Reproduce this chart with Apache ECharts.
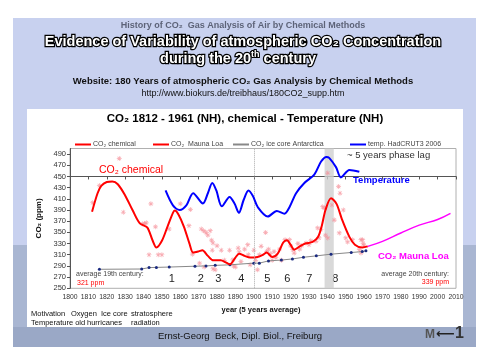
<!DOCTYPE html>
<html><head><meta charset="utf-8">
<script src="https://cdn.jsdelivr.net/npm/echarts@6/dist/echarts.min.js"></script>
<style>html,body{margin:0;padding:0;background:#fff}#c{width:486px;height:364px}</style>
</head><body><div id="c"></div>
<script>
// ---------- DATA ----------
// CO2 chemical, 5-year smoothed curve (year, ppm)
const chemYears = [1812,1815,1817,1820,1823,1826,1830,1834,1838,1842,1845,1847,1850,1853,1856,1857,1859,1862,1865,1867,1870,1872,1875,1878,1882,1885,1887,1890,1892,1895,1898,1902,1905,1907,1910,1913,1916,1918,1920,1922,1925,1928,1932,1935,1937,1939,1942,1945,1948,1952,1955,1959,1962];
const chemPpm   = [387,420,433,440,441,436,416,390,366,359,335,323,335,360,385,389,382,360,330,314,316,318,308,300,300,296,293,305,312,308,305,306,310,314,306,312,332,336,328,319,325,330,333,342,362,390,411,401,373,342,328,323,325];
// CO2 chemical single measurements (year, ppm)
const ptYears = [1812.3,1816,1826.8,1829,1839.5,1840.5,1841.5,1843,1844,1846.5,1848,1850,1854,1860,1864.7,1865.5,1866.6,1870.5,1871.4,1872.7,1873,1874,1875,1876.3,1877,1877.8,1877.4,1877.8,1879,1880,1882.3,1884,1886.8,1888.6,1889,1890,1891.5,1892,1893,1895,1896.7,1897,1898,1900,1901,1902,1903,1904,1906.4,1907,1908,1909,1910,1911,1912,1914,1915,1917,1919.4,1920,1921.2,1922,1924,1925,1926,1928.4,1930,1931,1933.8,1934.7,1935.5,1936.5,1937.5,1938.4,1939,1940.2,1940.2,1942.5,1943.8,1946.1,1946.9,1946.5,1948.7,1950,1951,1953.7,1957.4,1958.3,1959.2,1959.5,1960,1958.3];
const ptPpm   = [403,434,482,386,365,366,367,310,401,360,310,310,356,401,362,391,311,295,356,353,288,350,345,353,336,331,318,285,283,326,318,300,318,301,290,288,322,315,298,320,328,310,292,318,300,283,310,325,350,316,320,312,300,316,305,320,300,337,337,326,319,313,330,320,326,331,328,335,334,358,340,355,396,393,345,456,340,399,372,432,420,349,390,340,333,337,319,337,337,330,326,313];
// CO2 ice core Antarctica
const iceYears = [1816,1839,1843,1847,1854,1868,1874,1879,1887,1900,1903,1908,1915,1921,1927,1934,1942,1953,1959,1961];
const icePpm   = [284,284.5,287,287.4,288,289.5,290,291,292,295,295,299,300.5,302.5,305.5,308,311,314,315.6,317];
// CO2 Mauna Loa
const mlYears = [1962,1970,1980,1990,2000,2007];
const mlPpm   = [325,334,349,363,373,384];
// Temperature HadCRUT3 NH (anomaly, deg C, 5-yr smoothed)
const tYears = [1852,1856,1859.7,1863.3,1867,1872.3,1875,1877.4,1879.6,1882.6,1886.8,1889.5,1891.9,1894.5,1897.1,1899.5,1902.2,1907.6,1912.5,1916.7,1919.4,1923,1927.5,1932.9,1936.6,1939.5,1941,1944.7,1947.4,1952,1957.4];
const tAnom  = [-0.15,-0.31,-0.36,-0.31,-0.18,-0.29,-0.18,-0.07,-0.15,-0.32,-0.22,-0.29,-0.39,-0.25,-0.15,-0.21,-0.33,-0.43,-0.37,-0.40,-0.33,-0.18,-0.07,0.02,0.16,0.21,0.20,0.10,-0.01,0.07,0.05];
// Shaded "phase lag" band
const bandYears = [1938.5, 1943.5];
// Tick labels
const xTicks = [1800,1810,1820,1830,1840,1850,1860,1870,1880,1890,1900,1910,1920,1930,1940,1950,1960,1970,1980,1990,2000,2010];
const yTicks = [250,270,290,310,330,350,370,390,410,430,450,470,490];
const periodLabels = ['1','2','3','4','5','6','7','8'];

// ---------- BUILD ----------
const zip = (a,b) => a.map((v,i)=>[v,b[i]]);
const FONT = '"Liberation Sans", Arial, sans-serif';
const asterisk = 'path://M4.3,0H5.7V10H4.3Z M0,4.3H10V5.7H0Z M1,2L2,1L9,8L8,9Z M8,1L9,2L2,9L1,8Z';

const periodX = [171.7,200.7,218.3,241.3,267.3,287.3,309.3,335.3];

const graphics = [
  {type:'rect', shape:{x:13,y:18,width:463,height:329}, style:{fill:'#c8d1ef'}, z:-10, silent:true},
  {type:'rect', shape:{x:13,y:245,width:463,height:102}, style:{fill:'#a9b6d2'}, z:-9, silent:true},
  {type:'rect', shape:{x:13,y:327,width:463,height:20}, style:{fill:'#9aa8c6'}, z:-8, silent:true},
  {type:'rect', shape:{x:27,y:109,width:436,height:218}, style:{fill:'#ffffff'}, z:-7, silent:true},
  {type:'text', left:'center', top:21, style:{text:'History of CO₂  Gas Analysis of Air by Chemical Methods', font:'bold 9px '+FONT, fill:'#5d6378', textShadowColor:'#ffffff', textShadowOffsetX:1, textShadowOffsetY:1, textShadowBlur:0}},
  {type:'text', left:'center', top:33, style:{text:'Evidence of Variability of atmospheric CO₂ Concentration', font:'bold 14.5px '+FONT, fill:'#ffffff', stroke:'#000000', lineWidth:2.5}},
  {type:'text', x:238, y:50, style:{text:'{a|during the 20}{s|th}{a| century}', align:'center', font:'bold 14.5px '+FONT, fill:'#ffffff', stroke:'#000', lineWidth:2.5,
      rich:{a:{font:'bold 14.5px '+FONT, fill:'#fff', stroke:'#000', lineWidth:2.5, lineHeight:16, verticalAlign:'bottom'}, s:{font:'bold 9px '+FONT, fill:'#fff', stroke:'#000', lineWidth:2, lineHeight:16, verticalAlign:'top', padding:[0,0,6,0]}}}},
  {type:'text', left:'center', top:76, style:{text:'Website: 180 Years of atmospheric CO₂ Gas Analysis by Chemical Methods', font:'bold 9.5px '+FONT, fill:'#111'}},
  {type:'text', left:'center', top:89, style:{text:'http://www.biokurs.de/treibhaus/180CO2_supp.htm', font:'9px '+FONT, fill:'#111'}},
  {type:'text', x:245, y:113, style:{text:'CO₂ 1812 - 1961 (NH), chemical - Temperature (NH)', align:'center', font:'bold 11.5px '+FONT, fill:'#000'}},
  {type:'text', x:99, y:165, style:{text:'CO₂ chemical', font:'10.5px '+FONT, fill:'#ff0000'}},
  {type:'text', x:353, y:175, style:{text:'Temperature', font:'bold 9.5px '+FONT, fill:'#0000ff'}},
  {type:'text', x:378, y:251, style:{text:'CO₂ Mauna Loa', font:'bold 9.5px '+FONT, fill:'#ff00ff'}},
  {type:'text', x:347, y:150, style:{text:'~ 5 years phase lag', font:'9.5px '+FONT, fill:'#333'}},
  {type:'text', x:76, y:271, style:{text:'average 19th century:', font:'7px '+FONT, fill:'#444'}},
  {type:'text', x:77, y:280, style:{text:'321 ppm', font:'7px '+FONT, fill:'#ff0000'}},
  {type:'text', x:449, y:271, style:{text:'average 20th century:', align:'right', font:'7px '+FONT, fill:'#444'}},
  {type:'text', x:449, y:279, style:{text:'339 ppm', align:'right', font:'7px '+FONT, fill:'#ff0000'}},
  {type:'text', x:261, y:306, style:{text:'year (5 years average)', align:'center', font:'bold 7.5px '+FONT, fill:'#111'}},
  {type:'text', x:31, y:310, style:{text:'Motivation', font:'7.5px '+FONT, fill:'#111'}},
  {type:'text', x:71, y:310, style:{text:'Oxygen', font:'7.5px '+FONT, fill:'#111'}},
  {type:'text', x:101, y:310, style:{text:'Ice core', font:'7.5px '+FONT, fill:'#111'}},
  {type:'text', x:131, y:310, style:{text:'stratosphere', font:'7.5px '+FONT, fill:'#111'}},
  {type:'text', x:31, y:319, style:{text:'Temperature old', font:'7.5px '+FONT, fill:'#111'}},
  {type:'text', x:87, y:319, style:{text:'hurricanes', font:'7.5px '+FONT, fill:'#111'}},
  {type:'text', x:131, y:319, style:{text:'radiation', font:'7.5px '+FONT, fill:'#111'}},
  {type:'text', x:240, y:331, style:{text:'Ernst-Georg  Beck, Dipl. Biol., Freiburg', align:'center', font:'9.5px '+FONT, fill:'#111'}},
  {type:'text', x:425, y:329, style:{text:'M', font:'bold 12px '+FONT, fill:'#555'}},
  {type:'text', x:436, y:328, style:{text:'⟵', font:'bold 13px "DejaVu Sans"', fill:'#222'}},
  {type:'text', x:455, y:326, style:{text:'1', font:'bold 16px '+FONT, fill:'#333'}}
];
periodLabels.forEach((t,i)=>graphics.push({type:'text', x:periodX[i], y:273, style:{text:t, align:'center', font:'11px '+FONT, fill:'#222'}}));

const legendBase = {top:136, icon:'rect', itemWidth:16, itemHeight:2, itemGap:4, selectedMode:false,
  textStyle:{fontSize:7, color:'#444', fontFamily:FONT, padding:[0,0,0,-3]}};

const option = {
  animation:false,
  backgroundColor:'#ffffff',
  graphic: graphics,
  legend:[
    Object.assign({left:70, data:[{name:'CO₂ chemical', itemStyle:{color:'#ff0000'}}]}, legendBase),
    Object.assign({left:148, data:[{name:'CO₂  Mauna Loa', itemStyle:{color:'#ff0000'}}]}, legendBase),
    Object.assign({left:228, data:[{name:'CO₂ ice core Antarctica', itemStyle:{color:'#888888'}}]}, legendBase),
    Object.assign({left:345, data:[{name:'temp. HadCRUT3 2006', itemStyle:{color:'#0000ff'}}]}, legendBase)
  ],
  grid:{left:70, right:30, top:148.5, bottom:75.7, show:true, borderColor:'#b0b0b0', borderWidth:1, backgroundColor:'transparent'},
  xAxis:{type:'value', min:1800, max:2010, interval:10,
    axisLine:{lineStyle:{color:'#555'}}, axisTick:{length:3, lineStyle:{color:'#555'}},
    axisLabel:{fontSize:6.8, color:'#333', margin:5, fontFamily:FONT, formatter:v=>xTicks.includes(v)?String(v):''},
    splitLine:{show:false}},
  yAxis:[
    {type:'value', min:250, max:500, name:'CO₂ (ppm)', nameLocation:'middle', nameGap:26,
     nameTextStyle:{fontSize:8, fontWeight:'bold', color:'#111', fontFamily:FONT},
     axisLine:{show:true, lineStyle:{color:'#555'}},
     axisTick:{show:true, length:3, customValues:yTicks, lineStyle:{color:'#555'}},
     axisLabel:{fontSize:7.5, color:'#333', margin:4, fontFamily:FONT, customValues:yTicks},
     splitLine:{show:false}},
    {type:'value', min:-1.2, max:0.3, show:false, splitLine:{show:false}}
  ],
  series:[
    {type:'scatter', name:'points', data:zip(ptYears,ptPpm), symbol:asterisk, symbolSize:5,
     itemStyle:{color:'#f58a94', opacity:0.7}, z:2, silent:true,
     markArea:{silent:true, itemStyle:{color:'#cfcfcf', opacity:0.8}, data:[[{xAxis:bandYears[0]},{xAxis:bandYears[1]}]]},
     markLine:{silent:true, symbol:'none', label:{show:false}, lineStyle:{color:'#aaa', type:'dotted', width:1}, data:[{xAxis:1900}]}},
    {type:'line', name:'CO₂ ice core Antarctica', data:zip(iceYears,icePpm), symbol:'circle', symbolSize:3,
     itemStyle:{color:'#1a2a80'}, lineStyle:{color:'#888', width:1}, z:3},
    {type:'line', name:'CO₂ chemical', data:zip(chemYears,chemPpm), smooth:0.3, showSymbol:false,
     lineStyle:{color:'#ff0000', width:2}, itemStyle:{color:'#ff0000'}, z:4},
    {type:'line', name:'CO₂  Mauna Loa', data:zip(mlYears,mlPpm), smooth:0.4, showSymbol:false,
     lineStyle:{color:'#ff00ff', width:1.5}, itemStyle:{color:'#ff00ff'}, z:4},
    {type:'line', name:'temp. HadCRUT3 2006', yAxisIndex:1, data:zip(tYears,tAnom), smooth:0.3, showSymbol:false,
     lineStyle:{color:'#0000ff', width:2}, itemStyle:{color:'#0000ff'}, z:5}
  ]
};
const chart = echarts.init(document.getElementById('c'), null, {renderer:'canvas'});
chart.setOption(option);
</script></body></html>
